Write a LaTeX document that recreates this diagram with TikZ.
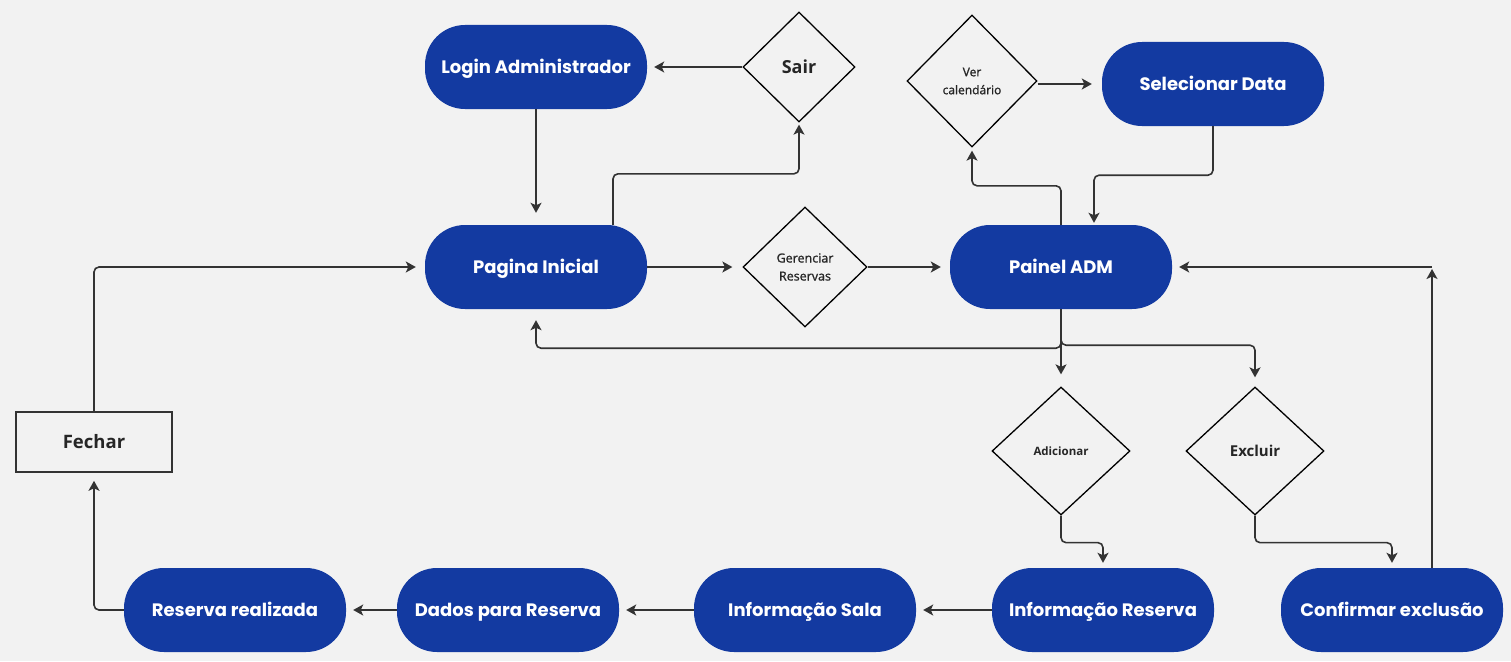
\documentclass[tikz,border=0pt]{standalone}
\usepackage{fontspec}
\setmainfont{Open Sans}
\newfontfamily\popp{Poppins}
\newfontfamily\osmed[FakeBold=1.2]{Open Sans}
\usetikzlibrary{shapes.geometric,arrows.meta,calc}
\definecolor{bg}{HTML}{F2F2F2}
\definecolor{nblue}{HTML}{133AA1}
\definecolor{lc}{HTML}{333333}
\definecolor{tc}{HTML}{262626}
\begin{document}
\begin{tikzpicture}[x=1pt,y=-1pt,
 term/.style={fill=nblue, text=white, minimum width=222pt, minimum height=84pt, rounded corners=40pt, inner sep=0pt, text height=12.6pt, text depth=0pt, font=\popp\bfseries\fontsize{18}{21}\selectfont},
 dec/.style={diamond, draw=black, line width=1.3pt, inner sep=0pt, text=tc, align=center},
 conn/.style={draw=lc, line width=1.6pt, rounded corners=5pt, -{Stealth[length=10pt,width=11pt,inset=2.5pt]}},
]
\useasboundingbox[fill=bg] (0,0) rectangle (1511,661);
% terminals
\node[term] (login) at (536,67) {Login Administrador};
\node[term] (pi) at (536,267) {Pagina Inicial};
\node[term] (sel) at (1213,84) {Selecionar Data};
\node[term] (adm) at (1061,267) {Painel ADM};
\node[term] (rr) at (235,610) {Reserva realizada};
\node[term] (dr) at (508,610) {Dados para Reserva};
\node[term] (is) at (805,610) {Informação Sala};
\node[term] (ir) at (1103,610) {Informação Reserva};
\node[term] (conf) at (1392,610) {Confirmar exclusão};
% decisions
\node[dec, minimum width=112pt, minimum height=110pt, font=\bfseries\fontsize{18}{21}\selectfont] (sair) at (799,67) {Sair};
\node[dec, minimum width=130pt, minimum height=132pt, font=\osmed\fontsize{12}{18}\selectfont] (ver) at (972,81) {Ver\\calendário};
\node[dec, minimum width=124pt, minimum height=120pt, font=\osmed\fontsize{12.5}{18}\selectfont] (ger) at (805,267) {Gerenciar\\Reservas};
\node[dec, minimum width=138pt, minimum height=128pt, font=\bfseries\fontsize{11.5}{14}\selectfont] (adic) at (1061,451) {Adicionar};
\node[dec, minimum width=138pt, minimum height=128pt, font=\bfseries\fontsize{15}{18}\selectfont] (excl) at (1255,451) {Excluir};
% Fechar
\node[draw=lc, line width=1.6pt, minimum width=156pt, minimum height=60pt, inner sep=0pt, text=tc, font=\bfseries\fontsize{18.5}{21}\selectfont] (fech) at (94,442) {Fechar};
\coordinate (rc) at (1432,267);
% connectors
\draw[conn, shorten >=7pt] (sair.west) -- (login.east);
\draw[conn, shorten >=12pt] (login.south) -- (pi.north);
\draw[conn, shorten >=2pt] ([xshift=77pt]pi.north) -- ++(0,-51) -| (sair.south);
\draw[conn, shorten >=10pt] (pi.east) -- (ger.west);
\draw[conn, shorten >=9pt] (ger.east) -- (adm.west);
\draw[conn, shorten >=3pt] (adm.north) -- ++(0,-39) -| (ver.south);
\draw[conn, shorten >=10pt] (ver.east |- sel.west) -- (sel.west);
\draw[conn, shorten >=2pt] (sel.south) -- ++(0,49) -| ([xshift=33pt]adm.north);
\draw[conn, shorten >=11pt] (adm.south) -- ++(0,39) -| (pi.south);
\draw[conn, shorten >=12pt] (adm.south) -- (adic.north);
\draw[conn, shorten >=9pt] (adm.south) -- ++(0,36) -| (excl.north);
\draw[conn, shorten >=5pt] (adic.south) -- ++(0,27) -| (ir.north);
\draw[conn, shorten >=5pt] (excl.south) -- ++(0,27) -| (conf.north);
\draw[conn, shorten >=2pt, rounded corners=0pt] ([xshift=40pt]conf.north) -- (rc);
\draw[conn, shorten >=7pt] (rc) -- (adm.east);
\draw[conn, shorten >=7pt] (ir.west) -- (is.east);
\draw[conn, shorten >=7pt] (is.west) -- (dr.east);
\draw[conn, shorten >=7pt] (dr.west) -- (rr.east);
\draw[conn, shorten >=8pt] (rr.west) -| (fech.south);
\draw[conn, shorten >=9pt] (fech.north) |- (pi.west);
\end{tikzpicture}
\end{document}
